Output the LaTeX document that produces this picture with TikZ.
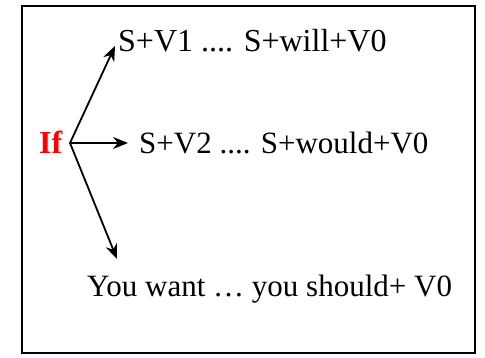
\documentclass[tikz,border=0pt]{standalone}
\usepackage{fontspec}
\setmainfont{Liberation Serif}
\usetikzlibrary{arrows.meta}
\begin{document}
\begin{tikzpicture}[x=1pt,y=-1pt,
  txt/.style={anchor=base west,inner sep=0pt,font=\fontsize{32}{36}\selectfont},
  conn/.style={line width=1.8pt,-{Stealth[length=15pt,width=12pt]}},
  frame/.style={line width=2.6pt}]
\useasboundingbox (0,0) rectangle (485,358);
\draw[frame] (22,6) rectangle (475,353);
\node[txt] (t1) at (118,52) {S+V1 .... S+will+V0};
\node[txt,text=red,font=\fontsize{32}{36}\selectfont\bfseries] (if) at (39,154) {If};
\node[txt,font=\fontsize{31}{36}\selectfont] (t2) at (139,154) {S+V2 .... S+would+V0};
\node[txt,font=\fontsize{31}{36}\selectfont] (t3) at (87,297) {You want \dots\ you should+ V0};
\coordinate (fork) at (70,143);
\coordinate (e1) at (115,46);
\coordinate (e2) at (128,143);
\coordinate (e3) at (117,259);
\draw[conn] (fork) -- (e1);
\draw[conn] (fork) -- (e2);
\draw[conn] (fork) -- (e3);
\end{tikzpicture}
\end{document}
